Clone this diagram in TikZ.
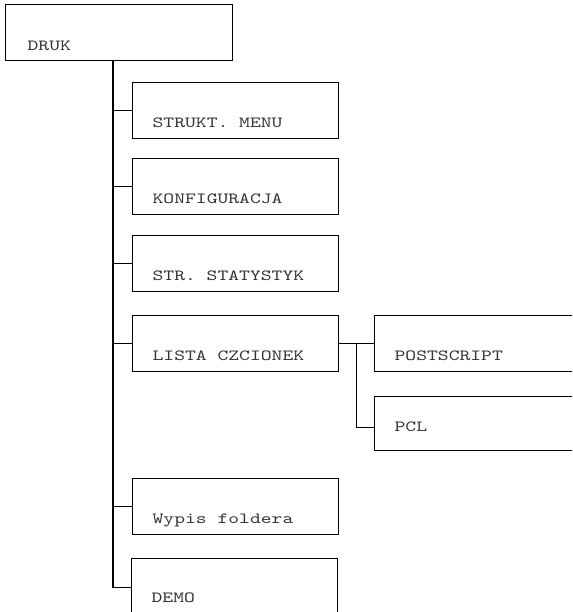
\documentclass[tikz,border=0pt]{standalone}
\usepackage{fontspec}
\setmonofont{lmmono10-regular.otf}[FakeStretch=1.33]
\newcommand{\mysp}{\hphantom{X}}
\begin{document}
\begin{tikzpicture}[x=1pt,y=-1pt,line width=1.3pt,
  box/.style={draw, anchor=north west, inner xsep=20pt, inner ysep=0pt,
    text width=166pt, text height=45pt, text depth=11pt, align=left,
    font=\ttfamily\fontsize{15.5}{15.5}\selectfont, text=black!80},
  wire/.style={line width=1.3pt}]
\useasboundingbox (0,0) rectangle (572,612);
\clip (0,0) rectangle (572,612);
\node[box, inner xsep=22pt, text width=183pt, text height=46pt, text depth=10pt] (druk) at (5,4) {DRUK};
\node[box] (m1) at (132,82) {STRUKT.\mysp MENU};
\node[box] (m2) at (132,158) {KONFIGURACJA};
\node[box] (m3) at (132,235) {STR.\mysp STATYSTYK};
\node[box] (m4) at (132,315) {LISTA\mysp CZCIONEK};
\node[box, text width=300pt] (s1) at (374,315) {POSTSCRIPT};
\node[box, text width=300pt, text height=35pt, text depth=19pt] (s2) at (374,396) {PCL};
\node[box] (m5) at (132,478) {Wypis\mysp foldera};
\node[box, text height=44pt, text depth=14pt] (m6) at (131,558) {DEMO};
\coordinate (trunk) at ([xshift=108pt]druk.south west);
\draw[wire] (trunk) |- (m6.west);
\foreach \n in {m1,m2,m3,m4,m5}{
  \draw[wire] (trunk |- \n.west) -- (\n.west);
}
\draw[wire] (m4.east) -- (s1.west);
\coordinate (branch) at ([xshift=17pt]m4.east);
\draw[wire] (branch) |- ([yshift=-4pt]s2.west);
\end{tikzpicture}
\end{document}
